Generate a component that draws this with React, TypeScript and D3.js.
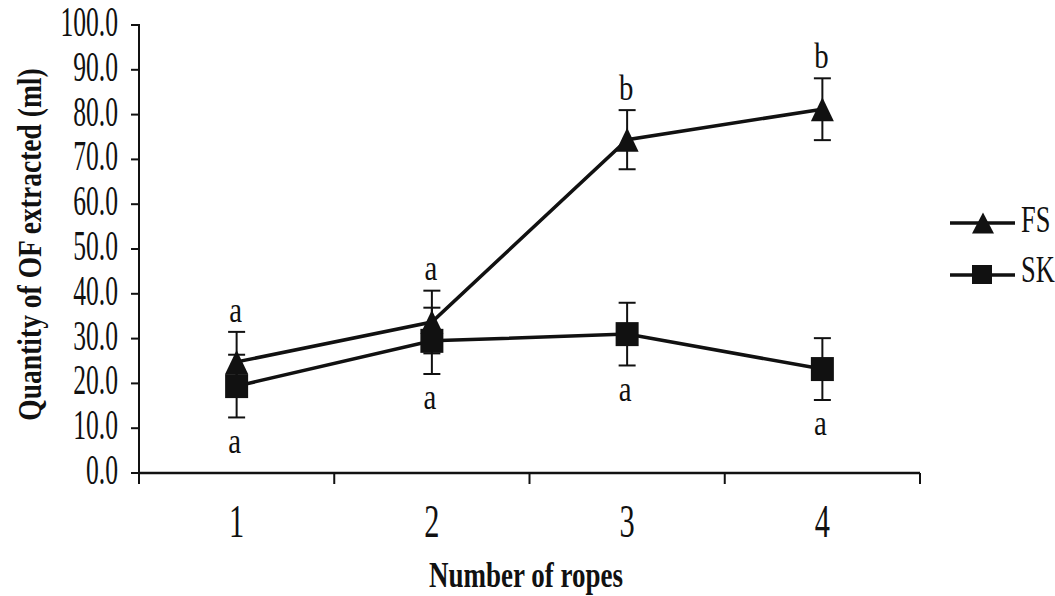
import React from "react";
import * as d3 from "d3";

// Number of ropes on the x axis
const ropes = ["1", "2", "3", "4"];

// Quantity of OF extracted (ml): mean and error per rope count
const fsMean = [24.8, 33.7, 74.4, 81.2];
const fsErr = [6.7, 7.0, 6.6, 6.9];
const fsLetters = ["a", "a", "b", "b"];

const skMean = [19.4, 29.5, 31.0, 23.2];
const skErr = [7.0, 7.4, 7.0, 6.9];
const skLetters = ["a", "a", "a", "a"];

const yTicks = [0, 10, 20, 30, 40, 50, 60, 70, 80, 90, 100];

const W = 1055;
const H = 596;
const FONT = "'Liberation Serif', 'Times New Roman', serif";
const INK = "#111";

type TProps = {
  x: number;
  y: number;
  sx?: number;
  sy?: number;
  size: number;
  anchor?: "start" | "middle" | "end";
  weight?: string;
  rotate?: number;
  children: React.ReactNode;
};

// Text drawn with a condensing transform around its anchor point
function T({ x, y, sx = 1, sy = 1, size, anchor = "start", weight = "normal", rotate = 0, children }: TProps) {
  return (
    <g transform={`translate(${x},${y}) rotate(${rotate}) scale(${sx},${sy})`}>
      <text
        x={0}
        y={0}
        textAnchor={anchor}
        fontFamily={FONT}
        fontSize={size}
        fontWeight={weight}
        fill={INK}
      >
        {children}
      </text>
    </g>
  );
}

function triangle(cx: number, cy: number, w: number, h: number) {
  return `M${cx},${cy - h / 2} L${cx + w / 2},${cy + h / 2} L${cx - w / 2},${cy + h / 2} Z`;
}

export default function App() {
  const x = d3.scaleBand<string>().domain(ropes).range([139, 920]).padding(0);
  const y = d3.scaleLinear().domain([0, 100]).range([473, 25]);
  const cx = (i: number) => (x(ropes[i]) as number) + x.bandwidth() / 2;

  const line = d3
    .line<number>()
    .x((_, i) => cx(i))
    .y((d) => y(d));

  const cap = 8.5;
  const [x0, x1] = x.range();

  const errorBars = (means: number[], errs: number[], key: string) =>
    means.map((m, i) => (
      <g key={`${key}${i}`} stroke={INK} strokeWidth={2}>
        <line x1={cx(i)} x2={cx(i)} y1={y(m - errs[i])} y2={y(m + errs[i])} />
        <line x1={cx(i) - cap} x2={cx(i) + cap} y1={y(m + errs[i])} y2={y(m + errs[i])} />
        <line x1={cx(i) - cap} x2={cx(i) + cap} y1={y(m - errs[i])} y2={y(m - errs[i])} />
      </g>
    ));

  return (
    <svg width={W} height={H} style={{ position: "absolute", left: 0, top: 0, background: "#fff" }}>
      <rect width={W} height={H} fill="#fff" />

      {/* y axis */}
      <line x1={x0} x2={x0} y1={y(100) - 1} y2={y(0)} stroke={INK} strokeWidth={2} />
      {yTicks.map((t) => (
        <g key={`yt${t}`}>
          <line x1={x0 - 8} x2={x0} y1={y(t)} y2={y(t)} stroke={INK} strokeWidth={2} />
          <T x={118} y={y(t) + 11} size={32} sx={0.8} sy={1.3} anchor="end">
            {t.toFixed(1)}
          </T>
        </g>
      ))}

      {/* x axis */}
      <line x1={x0} x2={x1} y1={y(0)} y2={y(0)} stroke={INK} strokeWidth={2.5} />
      {[...ropes.map((r) => x(r) as number), x1].map((p, i) => (
        <line key={`xt${i}`} x1={p} x2={p} y1={y(0)} y2={y(0) + 11} stroke={INK} strokeWidth={2} />
      ))}
      {ropes.map((r, i) => (
        <T key={`xl${r}`} x={cx(i)} y={537} size={38} sx={0.8} sy={1.2} anchor="middle">
          {r}
        </T>
      ))}

      {/* axis titles */}
      <T x={526} y={587} size={30} sx={0.9} sy={1.2} anchor="middle" weight="bold">
        Number of ropes
      </T>
      <T x={41} y={244.5} size={29} sx={0.95} sy={1.15} anchor="middle" weight="bold" rotate={-90}>
        Quantity of OF extracted (ml)
      </T>

      {/* error bars */}
      {errorBars(fsMean, fsErr, "fe")}
      {errorBars(skMean, skErr, "se")}

      {/* series lines */}
      <path d={line(fsMean) || ""} fill="none" stroke={INK} strokeWidth={3.5} />
      <path d={line(skMean) || ""} fill="none" stroke={INK} strokeWidth={3.5} />

      {/* markers */}
      {skMean.map((m, i) => (
        <rect key={`sm${i}`} x={cx(i) - 11.5} y={y(m) - 12} width={23} height={24} fill={INK} />
      ))}
      {fsMean.map((m, i) => (
        <path key={`fm${i}`} d={triangle(cx(i), y(m), 23, 24)} fill={INK} />
      ))}

      {/* significance letters */}
      {fsLetters.map((l, i) => (
        <T key={`fl${i}`} x={cx(i) - 1} y={y(fsMean[i] + fsErr[i] + 2.3)} size={32} sx={0.9} sy={1.15} anchor="middle">
          {l}
        </T>
      ))}
      {skLetters.map((l, i) => (
        <T key={`sl${i}`} x={cx(i) - 2} y={y(skMean[i] - skErr[i] - 7.9)} size={32} sx={0.9} sy={1.15} anchor="middle">
          {l}
        </T>
      ))}

      {/* legend */}
      <g>
        <line x1={950} x2={1015} y1={223} y2={223} stroke={INK} strokeWidth={3.5} />
        <path d={triangle(983, 223, 22, 21)} fill={INK} />
        <T x={1021} y={232} size={33} sx={0.8} sy={1.15}>
          FS
        </T>
        <line x1={950} x2={1015} y1={275} y2={275} stroke={INK} strokeWidth={3.5} />
        <rect x={972} y={265} width={20} height={19} fill={INK} />
        <T x={1021} y={282} size={33} sx={0.8} sy={1.15}>
          SK
        </T>
      </g>
    </svg>
  );
}
